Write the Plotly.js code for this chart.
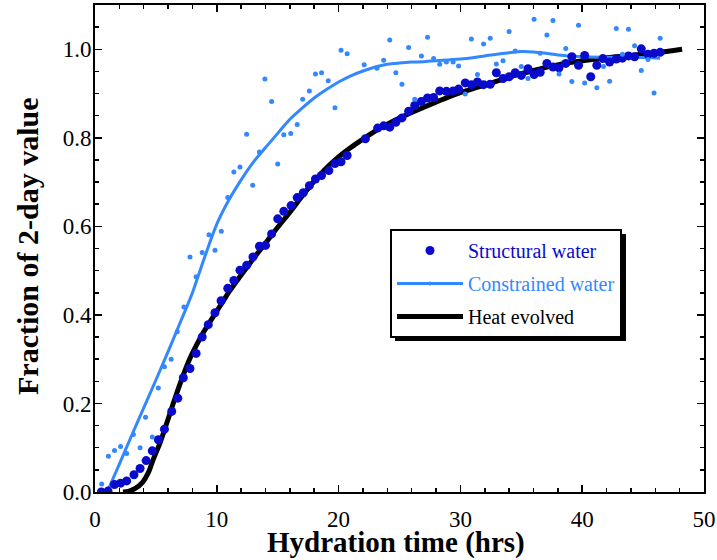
<!DOCTYPE html>
<html>
<head>
<meta charset="utf-8">
<script src="https://cdn.plot.ly/plotly-3.0.1.min.js"></script>
<style>html,body{margin:0;padding:0;background:#fff;}#chart{width:717px;height:560px;}</style>
</head>
<body>
<div id="chart"></div>
<script>
// Structural water (dark blue points)
var structT = [0.52,1.07,1.6,2.1,2.6,3.2,3.7,4.2,4.7,5.2,5.7,6.3,6.8,7.25,7.8,8.3,8.8,9.3,9.85,10.35,10.9,11.4,11.9,12.45,12.97,13.5,14.0,14.5,15.0,15.5,16.1,16.6,17.1,17.6,18.1,18.6,19.2,19.7,20.2,20.7,22.2,23.2,23.7,24.2,24.7,25.2,25.75,26.25,26.8,27.3,27.8,28.3,28.85,29.4,29.85,30.4,30.9,31.4,31.9,32.45,32.95,33.5,34.0,34.5,35.0,35.55,36.05,36.55,37.1,37.6,38.1,38.65,39.15,39.7,40.2,40.7,41.2,41.7,42.25,42.8,43.3,43.8,44.3,44.85,45.4,45.9,46.4];
var structV = [0.000,0.002,0.017,0.020,0.025,0.039,0.053,0.071,0.093,0.118,0.142,0.182,0.212,0.258,0.279,0.313,0.350,0.378,0.405,0.432,0.460,0.478,0.501,0.512,0.531,0.555,0.557,0.583,0.617,0.634,0.647,0.665,0.676,0.692,0.707,0.715,0.726,0.742,0.746,0.760,0.798,0.822,0.827,0.824,0.835,0.845,0.860,0.873,0.882,0.890,0.891,0.906,0.905,0.906,0.910,0.924,0.920,0.926,0.920,0.921,0.947,0.934,0.938,0.947,0.941,0.956,0.943,0.948,0.968,0.960,0.958,0.968,0.983,0.964,0.986,0.938,0.964,0.979,0.971,0.978,0.980,0.985,0.983,1.001,0.989,0.991,0.993];

// Constrained water (light blue points)
var consT = [0.55,1.1,1.6,2.1,2.6,3.15,3.7,4.15,4.7,5.2,5.7,6.25,6.75,7.3,7.8,8.3,8.8,9.36,9.85,10.37,10.9,11.4,11.9,12.45,12.95,13.5,13.95,14.5,15.0,15.5,16.07,16.6,17.05,17.6,18.1,18.6,19.15,19.7,20.2,20.7,22.1,23.15,23.7,24.2,24.7,25.2,25.75,26.25,26.8,27.3,27.8,28.3,28.85,29.4,29.85,30.4,30.9,31.4,31.9,32.45,32.95,33.5,34.0,34.5,35.0,35.55,36.05,36.55,37.1,37.6,38.1,38.65,39.15,39.7,40.2,41.2,41.75,42.25,42.8,43.3,43.8,44.3,44.85,45.4,45.9,46.4];
var consV = [0.018,0.081,0.094,0.103,0.087,0.130,0.100,0.169,0.124,0.235,0.283,0.300,0.362,0.418,0.531,0.486,0.541,0.581,0.546,0.589,0.665,0.723,0.734,0.808,0.693,0.768,0.933,0.882,0.741,0.807,0.810,0.830,0.887,0.906,0.944,0.947,0.929,0.868,0.998,0.990,0.965,0.957,0.975,1.021,0.947,0.921,1.004,0.887,0.985,1.027,0.979,0.966,0.971,0.971,0.962,0.899,1.023,0.943,1.012,1.025,0.967,0.974,1.040,0.996,0.961,0.934,1.068,0.991,1.032,1.065,0.944,1.002,0.927,1.054,0.924,0.913,0.961,0.928,1.047,0.989,1.045,1.008,0.952,0.977,0.901,1.025];

// Constrained water smoothed curve
var consFitT = [1.0,2,3,4,5,6,7,8,8.5,9,10,11,12,13,14,15,16,17,18,19,20,21,22,23,24,25,26,27,28,29,30,31,32,33,34,35,36,37,38,39,40,42,44,46.4];
var consFitV = [0.0,0.063,0.127,0.19,0.253,0.317,0.383,0.45,0.49,0.53,0.605,0.66,0.705,0.745,0.778,0.81,0.842,0.867,0.89,0.909,0.926,0.94,0.951,0.96,0.966,0.969,0.971,0.972,0.974,0.976,0.978,0.981,0.985,0.989,0.992,0.995,0.994,0.991,0.987,0.985,0.983,0.982,0.982,0.98];

// Heat evolved curve
var heatT = [2.3,2.8,3.3,3.9,4.4,4.8,5.3,5.8,6.4,6.9,7.3,7.8,8.3,8.8,9.3,9.8,10.5,11,12,13,14,15,16,17,18,19,20,21,22,23,24,25,26,27.5,29,30,31.5,33,34.5,36,37.5,39,40.5,42,44,46,48.2];
var heatV = [0.0,0.002,0.008,0.022,0.045,0.075,0.108,0.148,0.198,0.238,0.268,0.302,0.33,0.356,0.378,0.4,0.43,0.452,0.49,0.527,0.562,0.598,0.632,0.668,0.702,0.732,0.757,0.778,0.797,0.815,0.831,0.845,0.857,0.875,0.892,0.902,0.915,0.928,0.941,0.952,0.962,0.97,0.976,0.981,0.986,0.992,1.0];

var xTickVals = [0,10,20,30,40,50];
var xTickText = ['0','10','20','30','40','50'];
var yTickVals = [0,0.2,0.4,0.6,0.8,1.0];
var yTickText = ['0.0','0.2','0.4','0.6','0.8','1.0'];
var xTitle = 'Hydration time (hrs)';
var yTitle = 'Fraction of 2-day value';

var DARK = '#0a0acc';
var LIGHT = '#3388ff';
var FONT = '"Liberation Serif", "Times New Roman", Times, serif';

// legend-only dot for the constrained line (first marker visible, others transparent)
var fitColors = consFitT.map(function(_, i){ return i === 0 ? LIGHT : 'rgba(0,0,0,0)'; });

var traces = [
  {x: heatT, y: heatV, type: 'scatter', mode: 'lines', name: 'Heat evolved',
   line: {color: '#000000', width: 5, shape: 'spline'}, legendrank: 3, legendgroup: 'c'},
  {x: consFitT, y: consFitV, type: 'scatter', mode: 'lines+markers',
   name: '<span style="color:' + LIGHT + '">Constrained water</span>',
   line: {color: LIGHT, width: 3, shape: 'spline'},
   marker: {size: 4, color: fitColors}, legendrank: 2, legendgroup: 'b'},
  {x: structT, y: structV, type: 'scatter', mode: 'markers',
   name: '<span style="color:' + DARK + '">Structural water</span>',
   marker: {size: 9, color: DARK}, legendrank: 1, legendgroup: 'a'},
  {x: consT, y: consV, type: 'scatter', mode: 'markers', showlegend: false,
   marker: {size: 5, color: LIGHT}}
];

var axisCommon = {
  showline: true, linecolor: '#000', linewidth: 2, mirror: 'ticks',
  ticks: 'inside', ticklen: 7, tickwidth: 1.5, tickcolor: '#000',
  showgrid: false, zeroline: false,
  tickfont: {family: FONT, size: 23, color: '#000'}
};

var layout = {
  width: 717, height: 560,
  margin: {l: 95, r: 13, t: 5, b: 68},
  paper_bgcolor: '#fff', plot_bgcolor: '#fff',
  font: {family: FONT, color: '#000'},
  showlegend: true,
  xaxis: Object.assign({}, axisCommon, {
    range: [0, 50], tickmode: 'array', tickvals: xTickVals, ticktext: xTickText,
    ticklabelstandoff: 5,
    minor: {dtick: 2, ticks: 'inside', ticklen: 4, tickwidth: 1.5, tickcolor: '#000', showgrid: false}
  }),
  yaxis: Object.assign({}, axisCommon, {
    range: [0, 1.1], tickmode: 'array', tickvals: yTickVals, ticktext: yTickText,
    ticklabelstandoff: -3,
    minor: {dtick: 0.05, ticks: 'inside', ticklen: 4, tickwidth: 1.5, tickcolor: '#000', showgrid: false}
  }),
  annotations: [
    {text: '<b>' + xTitle + '</b>', xref: 'paper', yref: 'paper',
     x: (396 - 95) / 609, y: (492 - 560) / 487, xanchor: 'center', yanchor: 'bottom',
     borderpad: 0, showarrow: false, font: {family: FONT, size: 29, color: '#000'}},
    {text: '<b>' + yTitle + '</b>', xref: 'paper', yref: 'paper', textangle: -90,
     x: (27 - 95) / 609, y: (492 - 247) / 487, xanchor: 'center', yanchor: 'middle',
     showarrow: false, font: {family: FONT, size: 30, color: '#000'}}
  ],
  legend: {
    x: 0.4844, y: 0.54, xanchor: 'left', yanchor: 'top',
    bgcolor: '#fff', bordercolor: '#000', borderwidth: 2,
    font: {family: FONT, size: 20, color: '#000'},
    itemwidth: 66, tracegroupgap: 4
  },
  shapes: [
    {type: 'rect', xref: 'paper', yref: 'paper',
     x0: (395 - 95) / 609, x1: (626 - 95) / 609, y0: (492 - 341) / 487, y1: (492 - 234) / 487,
     fillcolor: '#000', line: {width: 0}, layer: 'above'}
  ]
};

Plotly.newPlot('chart', traces, layout, {displayModeBar: false, staticPlot: true});
</script>
</body>
</html>
